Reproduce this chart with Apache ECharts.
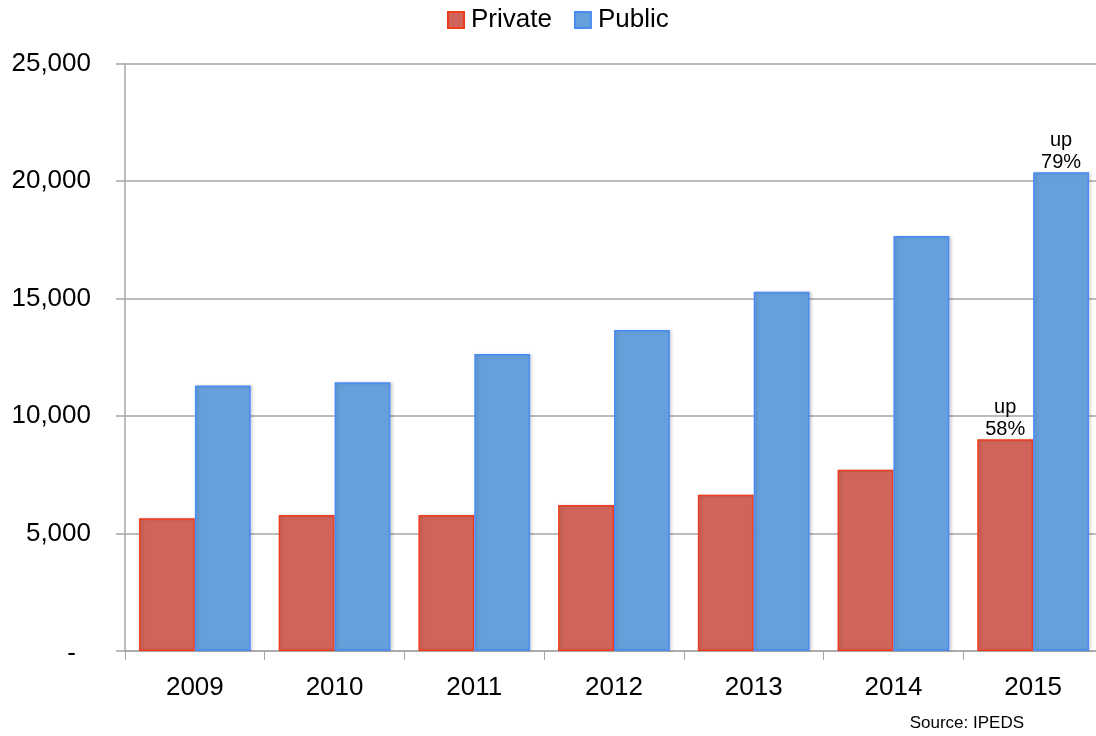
<!DOCTYPE html>
<html>
<head>
<meta charset="utf-8">
<script src="https://cdn.jsdelivr.net/npm/echarts@6/dist/echarts.min.js"></script>
<style>html,body{margin:0;padding:0;background:#fff}#c{width:1096px;height:736px}</style>
</head>
<body>
<div id="c"></div>
<script>
const years = ['2009','2010','2011','2012','2013','2014','2015'];
const privateVals = [5650, 5790, 5790, 6210, 6650, 7710, 9010];
const publicVals = [11300, 11440, 12640, 13660, 15290, 17660, 20370];
const privateNotes = ['', '', '', '', '', '', 'up\n58%'];
const publicNotes = ['', '', '', '', '', '', 'up\n79%'];
const yTicks = {min: 0, max: 25000, interval: 5000};
const sourceNote = 'Source: IPEDS';

const FONT = "'Helvetica Neue', Helvetica, 'Liberation Sans', Arial, sans-serif";

function items(vals, notes) {
  return vals.map((v, i) => notes[i] ? {
    value: v,
    label: {show: true, position: 'top', distance: -1, formatter: notes[i],
      color: '#000', fontSize: 20, lineHeight: 22, fontFamily: FONT}
  } : v);
}

const chart = echarts.init(document.getElementById('c'));
chart.setOption({
  animation: false,
  backgroundColor: '#fff',
  legend: {
    left: 447, top: 7, padding: 0,
    itemWidth: 16, itemHeight: 16, itemGap: 22,
    icon: 'rect',
    textStyle: {fontSize: 26, color: '#000', fontFamily: FONT, padding: [0, 0, 0, 2]},
    data: ['Private', 'Public']
  },
  grid: {left: 125, width: 978, top: 63.5, bottom: 85, outerBoundsMode: 'none', containLabel: false},
  xAxis: {
    type: 'category', data: years,
    axisLine: {lineStyle: {color: '#a6a6a6', width: 1.5}},
    axisTick: {show: true, length: 9, lineStyle: {color: '#a6a6a6', width: 1}},
    axisLabel: {color: '#000', fontSize: 26, fontFamily: FONT, margin: 24}
  },
  yAxis: {
    type: 'value', min: yTicks.min, max: yTicks.max, interval: yTicks.interval,
    axisLine: {show: true, lineStyle: {color: '#a6a6a6', width: 1.5}},
    axisTick: {show: true, length: 9, lineStyle: {color: '#a6a6a6', width: 1.5}},
    splitLine: {lineStyle: {color: '#a6a6a6', width: 1.5}},
    axisLabel: {color: '#000', fontSize: 26, fontFamily: FONT, margin: 34,
      formatter: v => v === 0 ? '{d|-}' : v.toLocaleString('en-US'),
      rich: {d: {fontSize: 26, fontFamily: FONT, color: '#000', padding: [6, 15, 0, 0]}}}
  },
  series: [
    {
      name: 'Private', type: 'bar', data: items(privateVals, privateNotes),
      barGap: '0%', barCategoryGap: '20%',
      itemStyle: {color: '#D0645A', borderColor: '#F03C1E', borderWidth: 1.5,
        shadowColor: 'rgba(0,0,0,0.15)', shadowBlur: 3, shadowOffsetX: 2}
    },
    {
      name: 'Public', type: 'bar', data: items(publicVals, publicNotes),
      barGap: '0%', barCategoryGap: '20%',
      itemStyle: {color: '#66A0DC', borderColor: '#4B8BF5', borderWidth: 1.5,
        shadowColor: 'rgba(0,0,0,0.15)', shadowBlur: 3, shadowOffsetX: 2}
    }
  ],
  graphic: [{
    type: 'text', right: 72, top: 715,
    style: {text: sourceNote, fill: '#000', font: "17px " + FONT}
  }]
});
</script>
</body>
</html>
